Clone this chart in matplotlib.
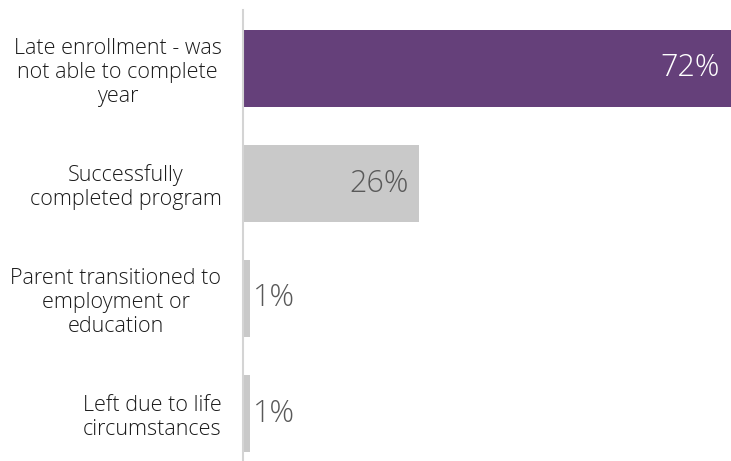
import matplotlib
matplotlib.use("Agg")
import matplotlib.pyplot as plt

categories = [
    "Late enrollment - was\nnot able to complete\nyear",
    "Successfully\ncompleted program",
    "Parent transitioned to\nemployment or\neducation",
    "Left due to life\ncircumstances",
]
values = [72, 26, 1, 1]
bar_colors = ["#65407A", "#C9C9C9", "#C9C9C9", "#C9C9C9"]

plt.rcParams["font.family"] = ["Open Sans", "DejaVu Sans"]

fig = plt.figure(figsize=(7.31, 4.61), dpi=100)
W, H = 731, 461
ax_left, ax_right = 243, 731
ax_top, ax_bottom = 10, 461
ax = fig.add_axes([ax_left / W, 1 - ax_bottom / H, (ax_right - ax_left) / W, (ax_bottom - ax_top) / H])

pos = list(range(len(categories)))
ax.barh(pos, values, height=0.67, color=bar_colors, zorder=2)

ax.set_xlim(0, 72)
ax.set_ylim(3 + (461 - 413.5) / 115, -(68.5 - 10) / 115)

for s in ["top", "right", "bottom"]:
    ax.spines[s].set_visible(False)
ax.spines["left"].set_color("#D4D4D4")
ax.spines["left"].set_linewidth(1.5)
ax.set_xticks([])
ax.set_yticks(pos)
ax.set_yticklabels(categories, fontsize=15.5, color="#1A1A1A", multialignment="center",
                   linespacing=1.17, fontweight="light")
ax.tick_params(axis="y", length=0, pad=15.5)

for p, v in zip(pos, values):
    label = f"{v}%"
    if v > 10:
        color = "white" if p == 0 else "#595959"
        ax.text(v - 1.6, p, label, ha="right", va="center", fontsize=22,
                color=color, fontweight="light")
    else:
        ax.text(v + 0.4, p, label, ha="left", va="center", fontsize=22,
                color="#595959", fontweight="light")

fig.savefig("out.png", dpi=100)
